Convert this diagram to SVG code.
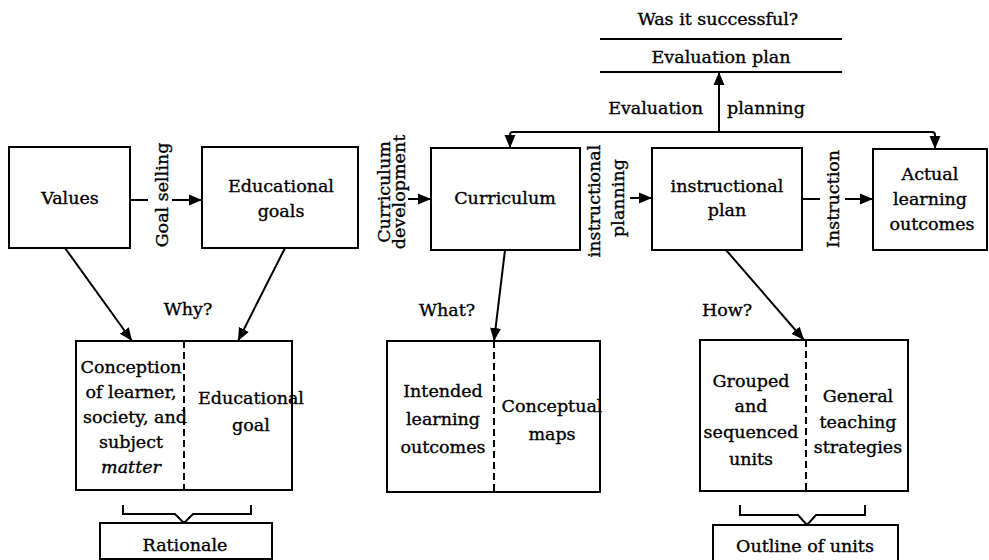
<svg xmlns="http://www.w3.org/2000/svg" width="989" height="560" viewBox="0 0 989 560">
<style>
text{font-family:"DejaVu Serif","Liberation Serif",serif;font-size:17.5px;fill:#000;stroke:#000;stroke-width:0.35}
.c{text-anchor:middle}
.box{fill:#fff;stroke:#000;stroke-width:2}
.ln{fill:none;stroke:#000;stroke-width:2}
.dv{fill:none;stroke:#000;stroke-width:2;stroke-dasharray:7 4}
</style>
<defs>
<marker id="ah" markerUnits="userSpaceOnUse" markerWidth="14" markerHeight="12" refX="13" refY="6" orient="auto">
<path d="M0,0.5 L13,6 L0,11.5 z" fill="#000"/>
</marker>
</defs>
<rect width="989" height="560" fill="#fff"/>

<g id="connectors">
<line class="ln" x1="130" y1="200" x2="148" y2="200"/>
<line class="ln" x1="172" y1="200" x2="202" y2="200" marker-end="url(#ah)"/>
<line class="ln" x1="408" y1="199" x2="431" y2="199" marker-end="url(#ah)"/>
<line class="ln" x1="630" y1="198" x2="652" y2="198" marker-end="url(#ah)"/>
<line class="ln" x1="802" y1="199" x2="820" y2="199"/>
<line class="ln" x1="845" y1="199" x2="873" y2="199" marker-end="url(#ah)"/>
<path class="ln" d="M510,137 V135 Q510,132 513,132 H932 Q935,132 935,135 V137"/>
<line class="ln" x1="510" y1="136" x2="510" y2="148" marker-end="url(#ah)"/>
<line class="ln" x1="935" y1="136" x2="935" y2="149" marker-end="url(#ah)"/>
<line class="ln" x1="719" y1="132" x2="719" y2="72" marker-end="url(#ah)"/>
<line class="ln" x1="65" y1="248" x2="132" y2="341" marker-end="url(#ah)"/>
<line class="ln" x1="285" y1="248" x2="238" y2="341" marker-end="url(#ah)"/>
<line class="ln" x1="505" y1="250" x2="494" y2="341" marker-end="url(#ah)"/>
<line class="ln" x1="726" y1="250" x2="804" y2="340" marker-end="url(#ah)"/>
<path class="ln" d="M123,505 V514 H175 L184,523 L193,514 H251 V505"/>
<path class="ln" d="M740,505 V515 H798 L807,525 L816,515 H865 V505"/>
</g>

<g id="labels">
<text class="c" x="718" y="25">Was it successful?</text>
<text x="703" y="114" text-anchor="end">Evaluation</text>
<text x="727" y="114">planning</text>
<text class="c" transform="translate(168,195) rotate(-90)">Goal selling</text>
<text class="c" transform="translate(390,192) rotate(-90)">Curriculum</text>
<text class="c" transform="translate(405,192) rotate(-90)">development</text>
<text class="c" transform="translate(600,201) rotate(-90)">instructional</text>
<text class="c" transform="translate(624,198) rotate(-90)">planning</text>
<text class="c" transform="translate(839,199) rotate(-90)">Instruction</text>
<text class="c" x="188" y="315">Why?</text>
<text class="c" x="447" y="316">What?</text>
<text class="c" x="727" y="316">How?</text>
</g>

<g id="evaluation-plan">
<line class="ln" x1="600" y1="39" x2="842" y2="39"/>
<line class="ln" x1="600" y1="72" x2="842" y2="72"/>
<text class="c" x="721" y="63">Evaluation plan</text>
</g>

<g id="values">
<rect class="box" x="9" y="147" width="121" height="101"/>
<text class="c" x="70" y="204">Values</text>
</g>

<g id="educational-goals">
<rect class="box" x="202" y="147" width="156" height="101"/>
<text class="c" x="281" y="192">Educational</text>
<text class="c" x="281" y="217">goals</text>
</g>

<g id="curriculum">
<rect class="box" x="431" y="148" width="149" height="102"/>
<text class="c" x="505" y="204">Curriculum</text>
</g>

<g id="instructional-plan">
<rect class="box" x="652" y="148" width="150" height="102"/>
<text class="c" x="727" y="192">instructional</text>
<text class="c" x="727" y="216">plan</text>
</g>

<g id="actual-outcomes">
<rect class="box" x="873" y="149" width="114" height="101"/>
<text class="c" x="930" y="180">Actual</text>
<text class="c" x="930" y="205">learning</text>
<text class="c" x="932" y="230">outcomes</text>
</g>

<g id="rationale-parts">
<rect class="box" x="76" y="341" width="216" height="149"/>
<line class="dv" x1="184" y1="341" x2="184" y2="490"/>
<text class="c" x="131" y="373">Conception</text>
<text class="c" x="131" y="398">of learner,</text>
<text class="c" x="135" y="423">society, and</text>
<text class="c" x="131" y="448">subject</text>
<text class="c" x="131" y="473" font-style="italic">matter</text>
<text class="c" x="251" y="404">Educational</text>
<text class="c" x="251" y="431">goal</text>
</g>

<g id="curriculum-parts">
<rect class="box" x="387" y="341" width="213" height="151"/>
<line class="dv" x1="494" y1="341" x2="494" y2="492"/>
<text class="c" x="443" y="397">Intended</text>
<text class="c" x="443" y="425">learning</text>
<text class="c" x="443" y="453">outcomes</text>
<text class="c" x="552" y="412">Conceptual</text>
<text class="c" x="552" y="440">maps</text>
</g>

<g id="plan-parts">
<rect class="box" x="700" y="340" width="208" height="151"/>
<line class="dv" x1="806" y1="340" x2="806" y2="491"/>
<text class="c" x="751" y="387">Grouped</text>
<text class="c" x="751" y="412">and</text>
<text class="c" x="751" y="438">sequenced</text>
<text class="c" x="751" y="465">units</text>
<text class="c" x="858" y="402">General</text>
<text class="c" x="858" y="428">teaching</text>
<text class="c" x="858" y="453">strategies</text>
</g>

<g id="rationale">
<rect class="box" x="100" y="523" width="172" height="36"/>
<text class="c" x="185" y="551">Rationale</text>
</g>

<g id="outline-of-units">
<rect class="box" x="713" y="525" width="185" height="36"/>
<text class="c" x="805" y="552">Outline of units</text>
</g>
</svg>
